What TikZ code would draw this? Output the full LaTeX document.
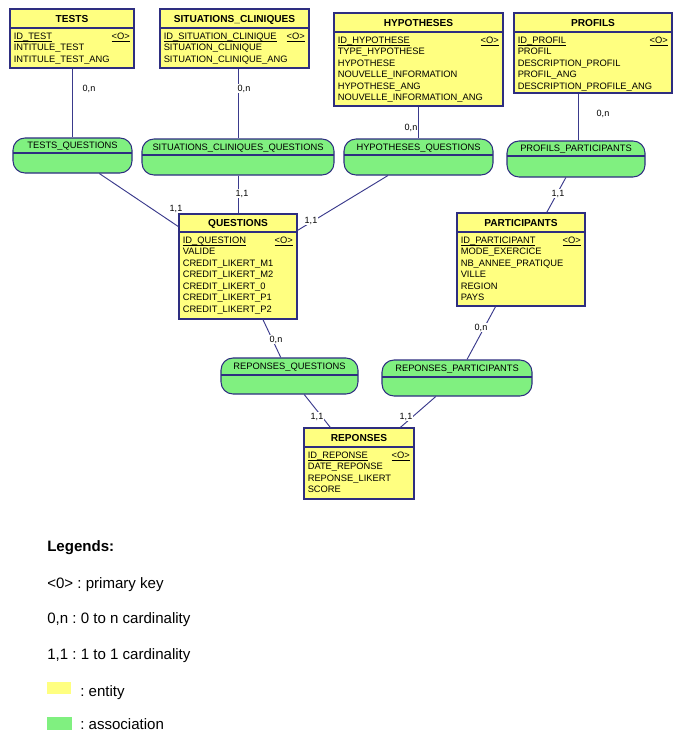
\documentclass[tikz,border=0pt]{standalone}
\usepackage{fontspec}
\setmainfont{Liberation Sans}
\frenchspacing
\usetikzlibrary{fit}
\definecolor{entY}{HTML}{FFFF80}
\definecolor{ascG}{HTML}{80F080}
\definecolor{bd}{HTML}{2E2E80}
\definecolor{ln}{HTML}{3A3A8C}
\tikzset{
  ent/.style={draw=bd, fill=entY, line width=0.8pt, inner sep=0pt},
  asc/.style={draw=bd, fill=ascG, line width=0.8pt, inner sep=0pt, rounded corners=9pt},
  divl/.style={draw=bd, line width=0.8pt},
  hdr/.style={font=\fontsize{7.6}{8}\selectfont\bfseries, inner sep=0pt, anchor=base},
  attr/.style={font=\fontsize{7}{8}\selectfont, inner sep=0pt, anchor=base west},
  albl/.style={font=\fontsize{7}{8}\selectfont, inner sep=0pt, anchor=base},
  conn/.style={draw=ln, line width=0.7pt},
  card/.style={font=\fontsize{6.8}{8}\selectfont, fill=white, inner sep=0.6pt, anchor=base},
  leg/.style={font=\fontsize{11.3}{13}\selectfont, inner sep=0pt, anchor=base west},
}
\newcommand{\mkentity}[9]{%
  \node[ent, fit={(#2,#3)(#4,#5)}] (#1) {};
  \draw[divl] (#2,#6) -- (#4,#6);
  \node[hdr] (#1-t) at ({(#2+#4)/2},{(#3+#6)/2+3.7}) {#7};
  \node[attr] (#1-k) at ({#2+3.5},{#6+11.4}) {\underline{\smash{#8}}};
  \node[attr, anchor=base east] (#1-o) at ({#4-4},{#6+11.4}) {\underline{\smash{<O>}}};
  \foreach \aname [count=\i] in {#9}
    \node[attr] (#1-\i) at ({#2+3.5},{#6+11.4+\i*11.5}) {\aname};
}
\newcommand{\mkassoc}[7]{%
  \node[asc, fit={(#2,#3)(#4,#5)}] (#1) {};
  \draw[divl] (#2,#6) -- (#4,#6);
  \node[albl] (#1-t) at ({(#2+#4)/2},{(#3+#6)/2+3.2}) {#7};
}
\begin{document}
\begin{tikzpicture}[x=0.75pt, y=-0.75pt]
\useasboundingbox[fill=white] (0,0) rectangle (685,742);

% entities
\mkentity{tests}{10}{9}{134}{68}{28}{TESTS}{ID\_TEST}{INTITULE\_TEST, INTITULE\_TEST\_ANG}
\mkentity{sc}{160}{9}{309}{68}{28}{SITUATIONS\_CLINIQUES}{ID\_SITUATION\_CLINIQUE}{SITUATION\_CLINIQUE, SITUATION\_CLINIQUE\_ANG}
\mkentity{hyp}{334}{13}{503}{106}{32}{HYPOTHESES}{ID\_HYPOTHESE}{TYPE\_HYPOTHESE, HYPOTHESE, NOUVELLE\_INFORMATION, HYPOTHESE\_ANG, NOUVELLE\_INFORMATION\_ANG}
\mkentity{prof}{514}{13}{672}{93}{32}{PROFILS}{ID\_PROFIL}{PROFIL, DESCRIPTION\_PROFIL, PROFIL\_ANG, DESCRIPTION\_PROFILE\_ANG}
\mkentity{q}{179}{214}{297}{319}{232}{QUESTIONS}{ID\_QUESTION}{VALIDE, CREDIT\_LIKERT\_M1, CREDIT\_LIKERT\_M2, CREDIT\_LIKERT\_0, CREDIT\_LIKERT\_P1, CREDIT\_LIKERT\_P2}
\mkentity{part}{457}{213}{585}{306}{232}{PARTICIPANTS}{ID\_PARTICIPANT}{MODE\_EXERCICE, NB\_ANNEE\_PRATIQUE, VILLE, REGION, PAYS}
\mkentity{rep}{304}{428}{414}{499}{447}{REPONSES}{ID\_REPONSE}{DATE\_REPONSE, REPONSE\_LIKERT, SCORE}

% associations
\mkassoc{tq}{13}{138}{132}{173}{153}{TESTS\_QUESTIONS}
\mkassoc{scq}{142}{139}{334}{175}{155}{SITUATIONS\_CLINIQUES\_QUESTIONS}
\mkassoc{hq}{344}{139}{493}{175}{155}{HYPOTHESES\_QUESTIONS}
\mkassoc{pp}{507}{141}{645}{177}{156}{PROFILS\_PARTICIPANTS}
\mkassoc{rq}{221}{358}{358}{394}{375}{REPONSES\_QUESTIONS}
\mkassoc{rp}{382}{360}{532}{396}{377}{REPONSES\_PARTICIPANTS}

% connectors
\draw[conn] (tq.north |- tests.south) -- (tq.north);
\draw[conn] (scq.north |- sc.south) -- (scq.north);
\draw[conn] (hyp) -- (hq);
\draw[conn] ([xshift=1.5pt]pp.north |- prof.south) -- ([xshift=1.5pt]pp.north);
\draw[conn] (tq) -- (q);
\draw[conn] (scq) -- (q);
\draw[conn] (hq) -- (q);
\draw[conn] (pp) -- (part);
\draw[conn] (q) -- (rq);
\draw[conn] (part) -- (rp);
\draw[conn] (rq) -- (rep);
\draw[conn] (rp) -- (rep);

% cardinalities
\node[card] (c1) at (89,91) {0,n};
\node[card] (c2) at (244,91) {0,n};
\node[card] (c3) at (411,130) {0,n};
\node[card] (c4) at (603,116) {0,n};
\node[card] (c5) at (176,211) {1,1};
\node[card] (c6) at (242,196) {1,1};
\node[card] (c7) at (311,223) {1,1};
\node[card] (c8) at (558,196) {1,1};
\node[card] (c9) at (276,342) {0,n};
\node[card] (c10) at (481,330) {0,n};
\node[card] (c11) at (317,419) {1,1};
\node[card] (c12) at (406,419) {1,1};

% legend
\node[leg, font=\fontsize{11.3}{13}\selectfont\bfseries] (lg0) at (47,551.7) {Legends:};
\node[leg] (lg1) at (47,588) {<0> : primary key};
\node[leg] (lg2) at (47,623) {0,n : 0 to n cardinality};
\node[leg] (lg3) at (47,659) {1,1 : 1 to 1 cardinality};
\node[fill=entY, inner sep=0pt, fit={(47,682)(71,694)}] (sw1) {};
\node[leg] (lg4) at (80,696) {: entity};
\node[fill=ascG, inner sep=0pt, fit={(47,717)(72,730)}] (sw2) {};
\node[leg] (lg5) at (80,729) {: association};
\end{tikzpicture}
\end{document}
